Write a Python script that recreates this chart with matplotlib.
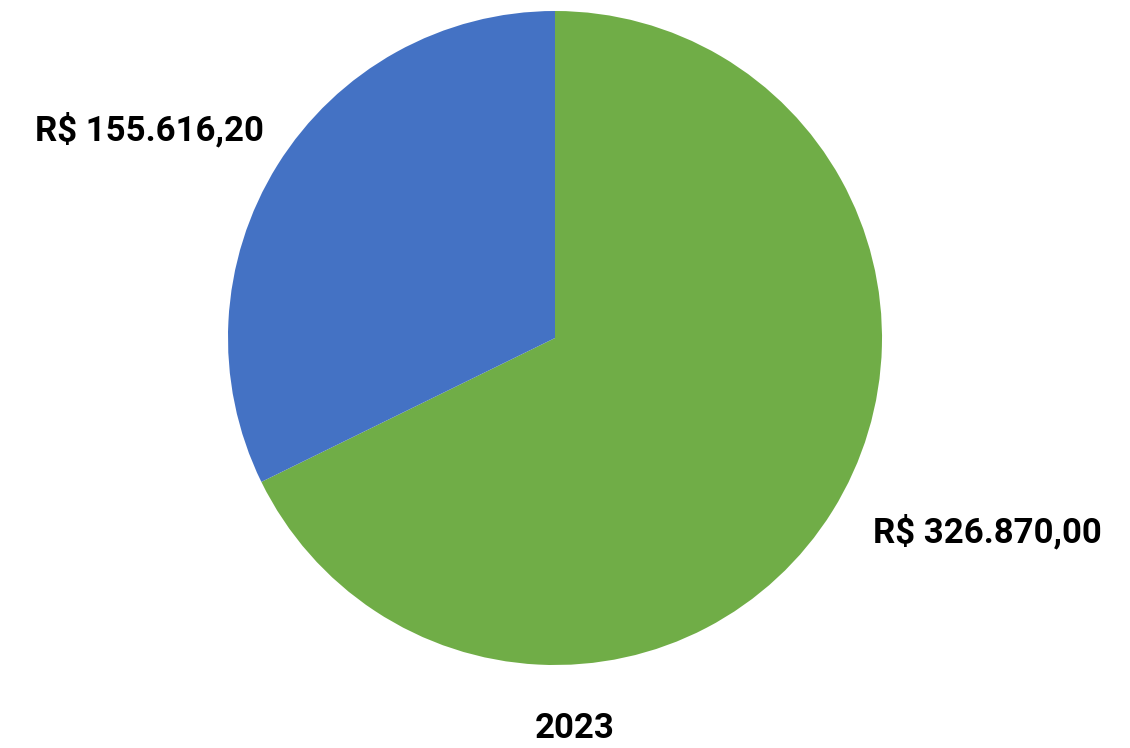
import matplotlib.pyplot as plt

# Values
categories = ["Verde", "Azul"]
values = [326870.00, 155616.20]
value_labels = ["R$ 326.870,00", "R$ 155.616,20"]
colors = ["#70AD47", "#4472C4"]
year_label = "2023"

W, H = 1130, 748
fig = plt.figure(figsize=(W / 100, H / 100), dpi=100)

cx, cy, r = 555, 338, 327
ax = fig.add_axes([(cx - r) / W, (H - cy - r) / H, 2 * r / W, 2 * r / H])
ax.pie(values, colors=colors, startangle=90, counterclock=False,
       radius=1.0, wedgeprops=dict(linewidth=0))
ax.set_xlim(-1, 1)
ax.set_ylim(-1, 1)
ax.set_aspect("equal")
ax.axis("off")

font = dict(family=["Roboto", "DejaVu Sans"], fontweight="bold", color="black")
fig.text(987 / W, 1 - 532 / H, value_labels[0], ha="center", va="center",
         fontsize=25, **font)
fig.text(149 / W, 1 - 130 / H, value_labels[1], ha="center", va="center",
         fontsize=25, **font)
fig.text(575 / W, 1 - 728 / H, year_label, ha="center", va="center",
         fontsize=25, **font)

fig.savefig("out.png", dpi=100)
